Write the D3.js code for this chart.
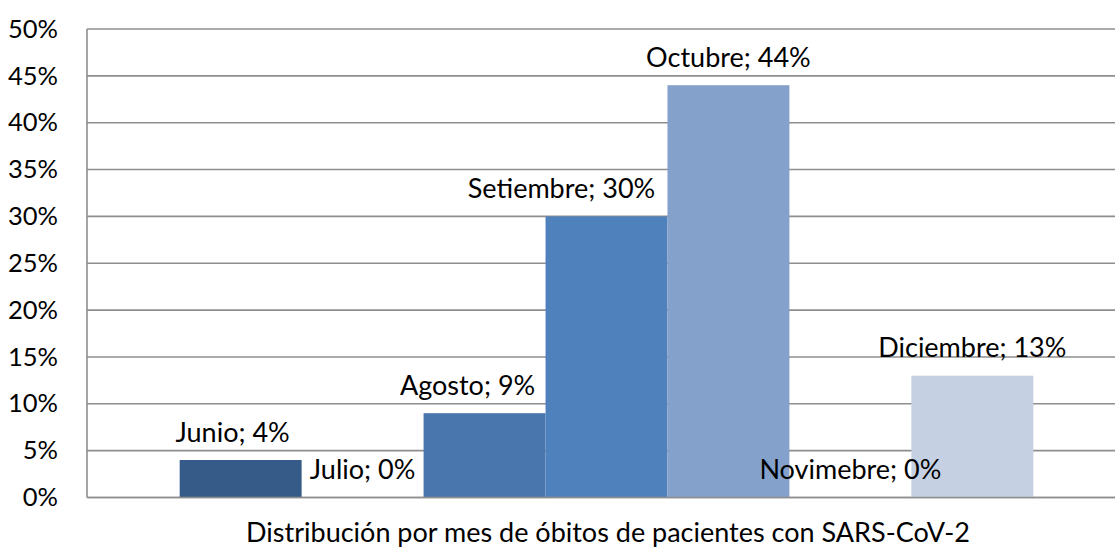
<!DOCTYPE html>
<html>
<head>
<meta charset="utf-8">
<script src="https://cdn.jsdelivr.net/npm/d3@7"></script>
<style>
  html, body { margin: 0; padding: 0; background: #fff; overflow: hidden; }
  svg { display: block; font-family: Lato, "Open Sans", sans-serif; }
</style>
</head>
<body>
<svg id="chart" width="1115" height="547"></svg>
<script>
const months = ["Junio", "Julio", "Agosto", "Setiembre", "Octubre", "Novimebre", "Diciembre"];
const values = [0.04, 0.00, 0.09, 0.30, 0.44, 0.00, 0.13];
const colors = ["#365B89", "#4A76AE", "#4A76AE", "#4F81BD", "#84A1CC", "#A9BBD9", "#C5D0E3"];
const yTicks = [0, 0.05, 0.10, 0.15, 0.20, 0.25, 0.30, 0.35, 0.40, 0.45, 0.50];
const axisTitle = "Distribución por mes de óbitos de pacientes con SARS-CoV-2";

const svg = d3.select("#chart");
const mLeft = 87, mRight = 1126, mTop = 29, mBottom = 497.5;
// manual label nudges (as placed in the original)
const labelDx = { "Junio": -8, "Agosto": -17, "Setiembre": -45 };

const x = d3.scaleBand().domain(months).range([mLeft, mRight]).paddingInner(0).paddingOuter(0.76);
const y = d3.scaleLinear().domain([0, 0.5]).range([mBottom, mTop]);

// gridlines
svg.append("g").selectAll("line").data(yTicks).join("line")
  .attr("x1", mLeft).attr("x2", mRight)
  .attr("y1", d => y(d)).attr("y2", d => y(d))
  .attr("stroke", "#8e8e8e").attr("stroke-width", 1.6);

// y axis line
svg.append("line").attr("x1", mLeft).attr("x2", mLeft).attr("y1", mTop).attr("y2", mBottom)
  .attr("stroke", "#8e8e8e").attr("stroke-width", 1.6);

// y axis labels
const yAxis = d3.axisLeft(y).tickValues(yTicks).tickFormat(d => Math.round(d * 100) + "%").tickSize(0).tickPadding(29);
const gy = svg.append("g").attr("transform", `translate(${mLeft},0)`).call(yAxis);
gy.select(".domain").remove();
gy.selectAll("text").attr("font-size", 25.5).attr("fill", "#000").attr("font-family", "Lato, sans-serif");

// bars
svg.append("g").selectAll("rect").data(months).join("rect")
  .attr("x", d => x(d))
  .attr("width", x.bandwidth())
  .attr("y", (d, i) => y(values[i]))
  .attr("height", (d, i) => y(0) - y(values[i]))
  .attr("fill", (d, i) => colors[i]);

// bottom axis line
svg.append("line").attr("x1", mLeft).attr("x2", mRight).attr("y1", mBottom).attr("y2", mBottom)
  .attr("stroke", "#8e8e8e").attr("stroke-width", 1.6);

// data labels
svg.append("g").selectAll("text").data(months).join("text")
  .attr("x", d => x(d) + x.bandwidth() / 2 + (labelDx[d] || 0))
  .attr("y", (d, i) => y(values[i]) - 29)
  .attr("text-anchor", "middle")
  .attr("dominant-baseline", "central")
  .attr("font-size", 27)
  .attr("fill", "#000")
  .text((d, i) => `${d}; ${Math.round(values[i] * 100)}%`);

// axis title
svg.append("text")
  .attr("x", 608)
  .attr("y", 531)
  .attr("text-anchor", "middle")
  .attr("dominant-baseline", "central")
  .attr("font-size", 27)
  .attr("fill", "#000")
  .text(axisTitle);
</script>
</body>
</html>
